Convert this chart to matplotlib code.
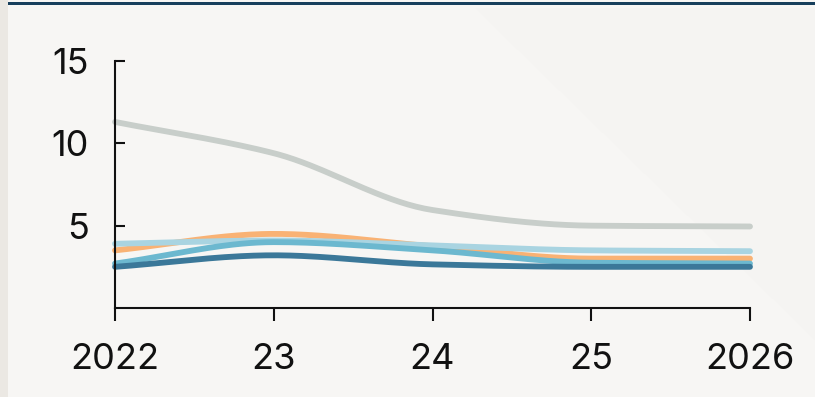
import numpy as np
import matplotlib.pyplot as plt
from matplotlib.patches import Polygon, Rectangle

years = [2022, 2023, 2024, 2025, 2026]
tick_labels = ["2022", "23", "24", "25", "2026"]

grey_series = [11.3, 9.4, 5.95, 5.0, 4.95]
orange_series = [3.5, 4.5, 3.75, 3.0, 3.0]
pale_blue_series = [3.9, 4.1, 3.8, 3.5, 3.45]
mid_blue_series = [2.7, 4.0, 3.5, 2.75, 2.7]
dark_blue_series = [2.5, 3.2, 2.65, 2.5, 2.5]


def monotone_curve(x, y, n=40):
    # monotone cubic (Fritsch-Carlson) between the yearly points
    x = np.asarray(x, float)
    y = np.asarray(y, float)
    h = np.diff(x)
    d = np.diff(y) / h
    m = np.zeros_like(y)
    m[0], m[-1] = d[0], d[-1]
    for i in range(1, len(y) - 1):
        if d[i - 1] * d[i] <= 0:
            m[i] = 0
        else:
            m[i] = 2 / (1 / d[i - 1] + 1 / d[i])
    xs, ys = [], []
    for i in range(len(h)):
        t = np.linspace(0, 1, n)
        h00 = 2 * t**3 - 3 * t**2 + 1
        h10 = t**3 - 2 * t**2 + t
        h01 = -2 * t**3 + 3 * t**2
        h11 = t**3 - t**2
        xs.append(x[i] + t * h[i])
        ys.append(h00 * y[i] + h10 * h[i] * m[i] + h01 * y[i + 1] + h11 * h[i] * m[i + 1])
    return np.concatenate(xs), np.concatenate(ys)


plt.rcParams['font.family'] = ['Inter', 'DejaVu Sans']

fig = plt.figure(figsize=(8.15, 3.97), dpi=100)
fig.patch.set_facecolor('#f7f6f4')

# faint shaded wedge on the right and the framing strips
fig.patches.append(Polygon([[475 / 815, 1 - 8 / 397], [1, 1 - 8 / 397], [1, 1 - 340 / 397]],
                           closed=True, transform=fig.transFigure, facecolor='#f5f4f2',
                           edgecolor='none', zorder=-5))
fig.patches.append(Rectangle((0, 0), 8 / 815, 1, transform=fig.transFigure,
                             facecolor='#ebe8e3', edgecolor='none', zorder=-4))
fig.patches.append(Rectangle((8 / 815, 1 - 5 / 397), 1, 3 / 397, transform=fig.transFigure,
                             facecolor='#173f5c', edgecolor='none', zorder=-4))

ax = fig.add_axes([115 / 815, 89 / 397, 635 / 815, 247 / 397])
ax.set_facecolor('none')
ax.set_zorder(2)

series = [
    (grey_series, '#c8ceca'),
    (orange_series, '#f9b274'),
    (pale_blue_series, '#a9d4e1'),
    (mid_blue_series, '#6cb8cf'),
    (dark_blue_series, '#3b7899'),
]
for values, color in series:
    xs, ys = monotone_curve(years, values)
    ax.plot(xs, ys, color=color, lw=4.2, solid_capstyle='round', clip_on=False)

ax.set_xlim(2022, 2026)
ax.set_ylim(0, 15)
ax.set_xticks(years)
ax.set_xticklabels(tick_labels)
ax.set_yticks([5, 10, 15])
ax.set_yticklabels(['5', '10', '15'])

for side in ['top', 'right']:
    ax.spines[side].set_visible(False)
for side in ['left', 'bottom']:
    ax.spines[side].set_linewidth(1.5)
    ax.spines[side].set_color('#111111')

ax.tick_params(axis='x', direction='out', length=9, width=1.5, pad=16,
               labelsize=26, colors='#111111')
ax.tick_params(axis='y', direction='in', length=7, width=1.5, pad=19,
               labelsize=26, colors='#111111')

fig.savefig('out.png', dpi=100, facecolor=fig.get_facecolor())
